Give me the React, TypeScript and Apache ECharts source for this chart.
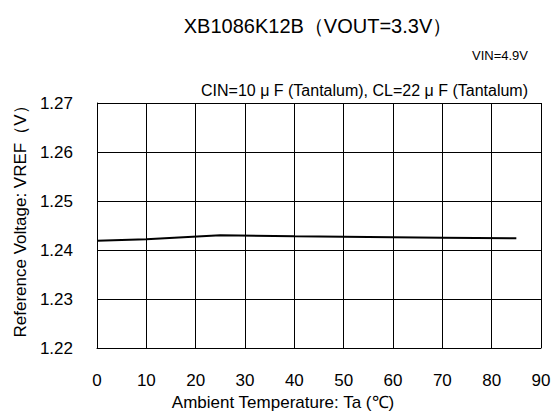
import React, { useEffect, useRef } from "react";
import * as echarts from "echarts";

const temps = [0, 10, 25, 40, 50, 60, 70, 85];
const vref = [1.2419, 1.2422, 1.243, 1.2428, 1.2427, 1.2426, 1.2425, 1.2424];
const title = "XB1086K12B（VOUT=3.3V）";
const note1 = "VIN=4.9V";
const note2 = "CIN=10 μ F (Tantalum), CL=22 μ F (Tantalum)";
const xName = "Ambient Temperature: Ta (℃)";
const yName = "Reference Voltage: VREF（V）";

export default function App() {
  const ref = useRef<HTMLDivElement>(null);
  useEffect(() => {
    const chart = echarts.init(ref.current!, null, { renderer: "svg" });
    const font = "Liberation Sans, Arial, sans-serif";
    const narrow = "Liberation Sans Narrow, Liberation Sans, Arial, sans-serif";
    chart.setOption({
      animation: false,
      backgroundColor: "#fff",
      textStyle: { fontFamily: font, color: "#000" },
      title: {
        text: title,
        left: 313,
        top: 11,
        textAlign: "center",
        textStyle: { fontSize: 20, fontWeight: "normal", color: "#000", fontFamily: font },
      },
      graphic: [
        { type: "text", right: 27, top: 49, style: { text: note1, fontSize: 13, fill: "#000", fontFamily: font } },
        { type: "text", right: 27, top: 82, style: { text: note2, fontSize: 16, fill: "#000", fontFamily: narrow } },
      ],
      grid: { left: 97, top: 103, right: 14, bottom: 64, outerBoundsMode: "none", containLabel: false },
      xAxis: {
        type: "value",
        min: 0,
        max: 90,
        interval: 10,
        name: xName,
        nameLocation: "middle",
        nameGap: 44,
        nameTextStyle: { fontSize: 17, color: "#000", fontFamily: font, padding: [0, 72, 0, 0] },
        axisLine: { show: true, lineStyle: { color: "#000", width: 1 } },
        axisTick: { show: false },
        axisLabel: { fontSize: 17, color: "#000", margin: 24, fontFamily: font },
        splitLine: { show: true, lineStyle: { color: "#000", width: 1 } },
      },
      yAxis: {
        type: "value",
        min: 1.22,
        max: 1.27,
        interval: 0.01,
        name: yName,
        nameLocation: "middle",
        nameGap: 64,
        nameTextStyle: { fontSize: 17, color: "#000", fontFamily: narrow, padding: [0, 0, 0, 16] },
        axisLine: { show: true, lineStyle: { color: "#000", width: 1 } },
        axisTick: { show: false },
        axisLabel: { fontSize: 17, color: "#000", margin: 24, fontFamily: font, formatter: (v: number) => v.toFixed(2) },
        splitLine: { show: true, lineStyle: { color: "#000", width: 1 } },
      },
      series: [
        {
          type: "line",
          data: temps.map((t, i) => [t, vref[i]]),
          showSymbol: false,
          symbol: "none",
          lineStyle: { color: "#000", width: 2 },
        },
      ],
    });
    return () => chart.dispose();
  }, []);
  return <div ref={ref} style={{ width: 555, height: 412, position: "absolute", left: 0, top: 0 }} />;
}
